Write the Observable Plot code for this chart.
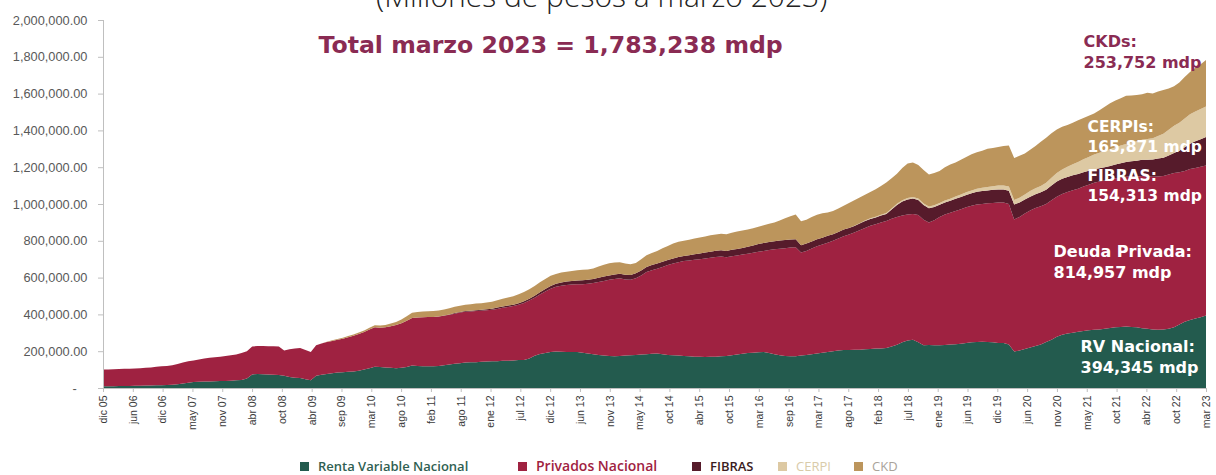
<!DOCTYPE html>
<html><head><meta charset="utf-8">
<script src="https://cdn.jsdelivr.net/npm/d3@7"></script>
<script src="https://cdn.jsdelivr.net/npm/@observablehq/plot@0.6"></script>
<style>
html,body{margin:0;padding:0;background:#fff;}
body{width:1216px;height:475px;overflow:hidden;position:relative;}
#sub{position:absolute;left:376px;top:-19px;font:300 30px/30px "Open Sans",sans-serif;color:#222;white-space:nowrap;z-index:2;}
#chart{position:absolute;left:0;top:0;}
#legend{position:absolute;left:0;top:457px;width:1216px;height:18px;font:600 13px/18px "Open Sans",sans-serif;white-space:nowrap;}
#legend .it{position:absolute;top:0;display:flex;align-items:center;}
#legend .sq{width:9px;height:9px;margin-right:9px;}
</style></head><body>
<div id="sub">(Millones de pesos a marzo 2023)</div>
<div id="chart"></div>
<div id="legend"></div>
<script>
// Monthly series, dic 2005 .. mar 2023 (thousands of millions of pesos)
const seriesNames = ["Renta Variable Nacional", "Privados Nacional", "FIBRAS", "CERPI", "CKD"];
const seriesColors = ["#235B4E", "#9F2241", "#561B2B", "#DDC9A3", "#BC955C"];
const legendTextColors = ["#2F5F52", "#9F2241", "#3A1C22", "#D9CBA9", "#A9A39A"];

const tickLabels = ["dic 05","jun 06","dic 06","may 07","nov 07","abr 08","oct 08","abr 09","sep 09","mar 10",
  "ago 10","feb 11","ago 11","ene 12","jul 12","dic 12","jun 13","nov 13","may 14","oct 14","abr 15","oct 15",
  "mar 16","sep 16","mar 17","ago 17","feb 18","jul 18","ene 19","jun 19","dic 19","jun 20","nov 20","may 21",
  "oct 21","abr 22","oct 22","mar 23"];
const yTicks = [0, 200000, 400000, 600000, 800000, 1000000, 1200000, 1400000, 1600000, 1800000, 2000000];

const rv = [10,
 10,10,11,11,11,12,12,13,14,15,15,16,
 18,21,25,28,32,34,35,36,37,38,38,40,
 42,44,52,74,76,75,73,72,70,66,60,56,
 54,48,42,66,72,76,80,84,86,88,90,94,
 100,108,116,114,112,110,108,110,114,122,120,118,
 118,118,120,124,128,132,134,138,140,140,142,144,
 145,146,148,148,150,152,152,160,175,185,190,195,
 198,197,196,196,196,192,188,184,180,176,174,172,
 174,176,178,180,182,184,186,188,184,180,178,176,
 174,172,170,170,168,170,170,172,174,178,182,186,
 190,192,194,196,190,184,178,174,172,172,176,180,
 184,188,192,196,200,204,206,206,208,208,210,212,
 214,214,218,226,235,248,258,262,248,232,234,232,
 232,234,236,238,240,244,248,250,252,250,248,245,
 244,236,198,204,212,220,228,236,250,262,278,290,
 296,300,306,310,314,316,318,322,326,330,332,334,
 332,330,325,322,318,316,318,322,330,345,360,370,
 378,384,394.345];

const privados = [90,
 91,92,92,93,94,94,96,97,98,100,103,104,
 106,109,113,117,118,121,125,128,130,132,136,138,
 140,146,148,152,152,153,154,155,156,138,150,158,
 164,158,154,166,170,174,176,178,182,188,194,200,
 204,210,214,213,218,226,234,242,252,258,263,267,
 268,268,268,268,270,272,276,276,276,278,278,278,
 280,284,288,292,295,300,310,315,315,323,335,345,
 352,359,364,366,368,372,378,386,396,406,414,420,
 422,414,410,416,430,446,454,460,474,488,498,508,
 516,521,527,530,536,538,542,542,536,538,538,539,
 540,543,546,549,560,570,579,586,591,593,560,565,
 574,582,588,594,600,608,619,628,637,650,660,670,
 676,686,690,694,695,690,685,683,692,683,665,680,
 698,709,716,724,732,738,742,747,748,754,758,763,
 764,764,718,726,736,745,750,752,750,758,762,765,
 769,775,777,785,791,799,804,806,808,810,812,814,
 818,820,827,828,830,834,834,838,838,827,820,820,
 818,818,814.957];

const fibras = [0,
 0,0,0,0,0,0,0,0,0,0,0,0,
 0,0,0,0,0,0,0,0,0,0,0,0,
 0,0,0,0,0,0,0,0,0,0,0,0,
 0,0,0,0,0,0,0,0,0,0,0,0,
 0,0,0,0,0,0,0,0,0,0,0,0,
 0,0,1,2,2,3,3,4,4,5,5,6,
 6,7,7,8,8,9,10,10,11,12,13,14,
 16,18,19,20,20,21,22,22,23,24,24,25,
 25,26,26,27,27,27,28,28,28,28,28,28,
 28,29,30,31,32,33,34,35,35,36,36,36,
 38,40,42,43,44,44,44,44,44,43,40,40,
 38,38,37,37,36,36,36,36,36,36,37,37,
 37,37,38,50,65,75,82,85,82,80,78,72,
 66,65,65,66,66,67,68,69,70,70,71,71,
 71,72,81,78,76,75,75,76,78,80,82,82,
 82,81,80,78,76,74,72,72,73,75,78,80,
 82,85,88,91,94,97,100,104,109,118,128,138,
 145,150,154.313];

const cerpi = [0,
 0,0,0,0,0,0,0,0,0,0,0,0,
 0,0,0,0,0,0,0,0,0,0,0,0,
 0,0,0,0,0,0,0,0,0,0,0,0,
 0,0,0,0,0,0,0,0,0,0,0,0,
 0,0,0,0,0,0,0,0,0,0,0,0,
 0,0,0,0,0,0,0,0,0,0,0,0,
 0,0,0,0,0,0,0,0,0,0,0,0,
 0,0,0,0,0,0,0,0,0,0,0,0,
 0,0,0,0,0,0,0,0,0,0,0,0,
 0,0,0,0,0,0,0,0,0,0,0,0,
 0,0,0,0,0,0,0,0,0,0,0,0,
 0,0,0,0,0,0,0,0,1,2,3,4,
 4,5,5,6,6,7,7,8,8,8,9,9,
 10,11,12,13,14,15,16,17,18,19,20,21,
 22,23,25,26,28,30,32,34,38,42,46,50,
 55,60,65,70,75,80,85,88,91,94,96,98,
 102,106,109,112,116,122,130,140,148,152,156,160,
 162,164,165.871];

const ckd = [0,
 0,0,0,0,0,0,0,0,0,0,0,0,
 0,0,0,0,0,0,0,0,0,0,0,0,
 0,0,0,0,0,0,0,0,0,0,0,0,
 0,0,0,0,0,2,3,4,5,6,7,8,
 9,10,11,12,13,15,17,20,24,29,30,31,
 31,32,32,33,33,34,34,35,35,36,36,37,
 38,40,42,44,46,48,50,52,54,55,55,56,
 54,54,53,54,56,57,56,58,61,64,66,65,
 63,60,58,57,61,65,66,69,74,76,81,83,
 82,84,85,87,88,89,88,89,91,92,94,95,
 94,93,94,96,98,102,109,118,127,135,130,130,
 134,134,133,127,126,127,129,135,138,139,140,142,
 149,156,166,164,164,175,188,188,182,182,174,175,
 174,181,186,185,188,191,196,198,202,207,208,210,
 214,223,228,228,223,225,230,240,244,243,237,233,
 228,226,227,225,224,223,231,240,250,253,257,262,
 256,251,248,252,242,243,238,224,215,218,226,229,
 237,244,253.752];

const values = [rv, privados, fibras, cerpi, ckd];
const table = [];
seriesNames.forEach((s, k) => values[k].forEach((v, i) => table.push({i, serie: s, value: v * 1000})));
const n = rv.length - 1;
const tickPos = tickLabels.map((_, k) => k * n / (tickLabels.length - 1));
const fmt = d3.format(",");
const last = values.map(a => Math.round(a[n] * 1000));
const total = d3.sum(last);

const annFont = "DejaVu Sans, sans-serif";
const ann = (txt, dx, dy, fill, size = 16) => Plot.text([txt], {
  frameAnchor: "top-left", dx, dy, textAnchor: "start", lineAnchor: "middle",
  fontSize: size, fontWeight: "bold", fill, lineHeight: 1.3, fontFamily: annFont
});

const plot = Plot.plot({
  width: 1216, height: 450,
  marginTop: 20, marginBottom: 62, marginLeft: 103, marginRight: 10,
  style: {fontFamily: "Liberation Sans, sans-serif", background: "transparent", overflow: "visible"},
  x: {type: "linear", domain: [0, n]},
  y: {domain: [0, 2000000]},
  color: {domain: seriesNames, range: seriesColors},
  marks: [
    Plot.areaY(table, {x: "i", y: "value", z: "serie", fill: "serie", order: seriesNames}),
    Plot.ruleX([0], {stroke: "#bfbfbf"}),
    Plot.ruleY([0], {stroke: "#bfbfbf"}),
    Plot.axisY({ticks: yTicks, tickFormat: v => v === 0 ? "-\u00a0\u00a0\u00a0" : d3.format(",.2f")(v),
      tickSize: 5, tickPadding: 11, fontSize: 12.8, fill: "#595959", stroke: "#bfbfbf", label: null}),
    Plot.axisX({ticks: tickPos, tickFormat: d => tickLabels[Math.round(d * (tickLabels.length - 1) / n)],
      tickRotate: -90, tickSize: 4, tickPadding: 3, fontSize: 10.5, fill: "#3a3a3a", stroke: "#bfbfbf", label: null}),
    Plot.text([`Total marzo 2023 = ${fmt(total)} mdp`], {frameAnchor: "top-left", dx: 215, dy: 25,
      textAnchor: "start", lineAnchor: "middle", fontSize: 23.6, fontWeight: "bold", fill: "#8A2B53", fontFamily: annFont}),
    ann(`CKDs:\n${fmt(last[4])} mdp`, 980, 30, "#8A2B53"),
    ann(`CERPIs:\n${fmt(last[3])} mdp`, 984, 115, "#ffffff", 15.5),
    ann(`FIBRAS:\n${fmt(last[2])} mdp`, 984, 164, "#ffffff", 15.5),
    ann(`Deuda Privada:\n${fmt(last[1])} mdp`, 950, 240, "#ffffff"),
    ann(`RV Nacional:\n${fmt(last[0])} mdp`, 977, 335, "#ffffff")
  ]
});
document.getElementById("chart").appendChild(plot);

const legendLeft = [300, 518, 692, 778, 854];
const lg = document.getElementById("legend");
seriesNames.forEach((s, k) => {
  const it = document.createElement("div"); it.className = "it"; it.style.left = legendLeft[k] + "px";
  const sq = document.createElement("div"); sq.className = "sq"; sq.style.background = seriesColors[k];
  const tx = document.createElement("span"); tx.textContent = s; tx.style.color = legendTextColors[k];
  if (k === 1) tx.style.fontSize = "14px";
  if (k >= 3) tx.style.fontWeight = "400";
  it.appendChild(sq); it.appendChild(tx); lg.appendChild(it);
});
</script>
</body></html>
